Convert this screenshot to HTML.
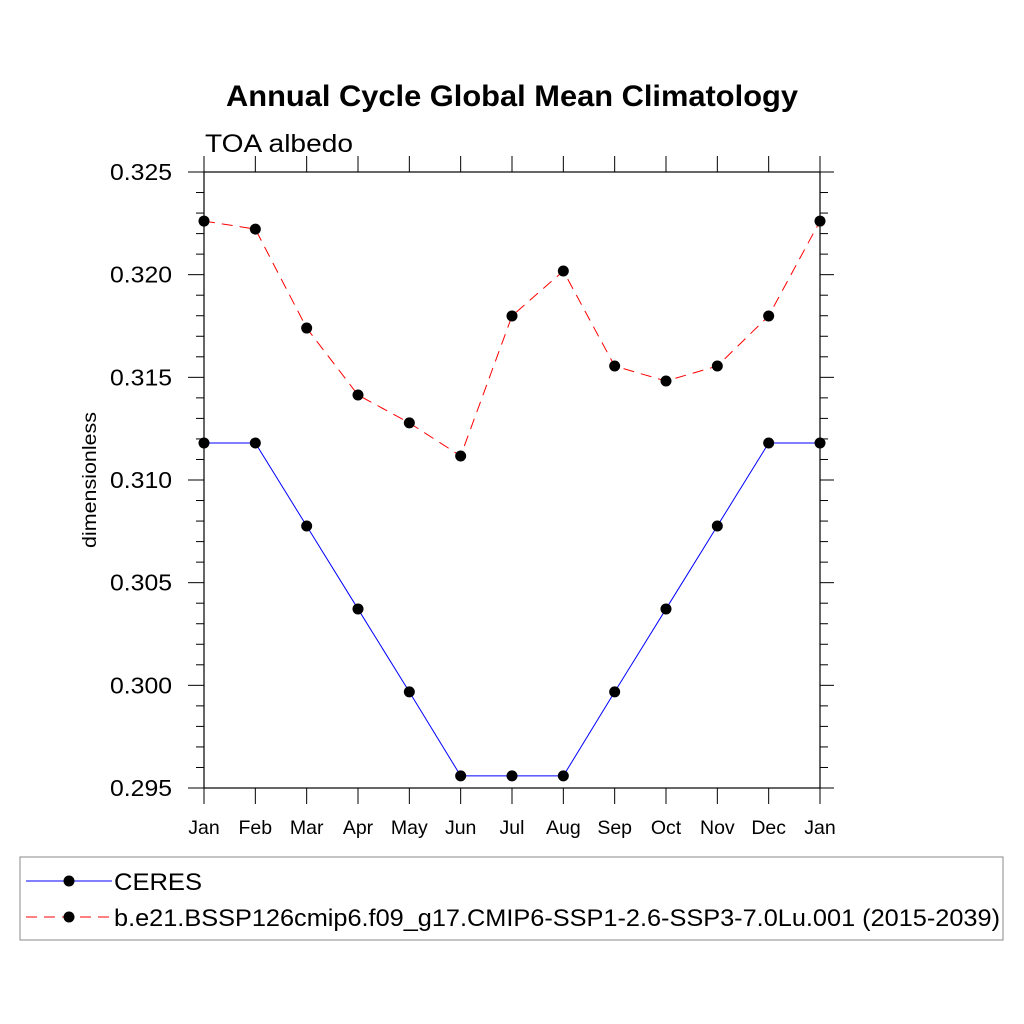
<!DOCTYPE html>
<html><head><meta charset="utf-8"><style>
body{margin:0;background:#fff}
svg{display:block;font-family:"Liberation Sans",Arial,sans-serif}
</style></head><body>
<svg id="chart" width="1024" height="1024" xmlns="http://www.w3.org/2000/svg">
<rect width="1024" height="1024" fill="#fff"/>
<text x="226" y="106" font-size="30" font-weight="bold" textLength="572" lengthAdjust="spacingAndGlyphs">Annual Cycle Global Mean Climatology</text>
<text x="205" y="152" font-size="25" textLength="148" lengthAdjust="spacingAndGlyphs">TOA albedo</text>
<text transform="translate(96,412) rotate(-90)" text-anchor="end" font-size="19" textLength="136" lengthAdjust="spacingAndGlyphs">dimensionless</text>
<g id="axes"></g>
<g id="series"></g>
<rect x="20" y="857" width="983" height="83" fill="none" stroke="#888" stroke-width="1"/>
<g>
<line x1="26" y1="881" x2="112" y2="881" stroke="#00f" stroke-width="1"/>
<circle cx="69" cy="881" r="5.5" fill="#000"/>
<text x="114" y="890" font-size="24" textLength="88" lengthAdjust="spacingAndGlyphs">CERES</text>
</g>
<g>
<line x1="26" y1="917" x2="112" y2="917" stroke="#f00" stroke-width="1" stroke-dasharray="11,7"/>
<circle cx="69" cy="917" r="5.5" fill="#000"/>
<text x="114" y="926" font-size="24" textLength="886" lengthAdjust="spacingAndGlyphs">b.e21.BSSP126cmip6.f09_g17.CMIP6-SSP1-2.6-SSP3-7.0Lu.001 (2015-2039)</text>
</g>
</svg>
<script>
const months=["Jan","Feb","Mar","Apr","May","Jun","Jul","Aug","Sep","Oct","Nov","Dec","Jan"];
const yTicks=[0.295,0.300,0.305,0.310,0.315,0.320,0.325];
const yTickLabels=["0.295","0.300","0.305","0.310","0.315","0.320","0.325"];
const ceres=[0.3118,0.3118,0.30776,0.30372,0.29968,0.29559,0.29559,0.29559,0.29968,0.30372,0.30776,0.3118,0.3118];
const model=[0.32261,0.32222,0.3174,0.31414,0.31278,0.31117,0.31799,0.32018,0.31555,0.31482,0.31555,0.31799,0.32261];
const L=204,R=820,T=172,B=788,yMin=0.295,yMax=0.325;
const xs=i=>L+i*(R-L)/12;
const ys=v=>B-(v-yMin)/(yMax-yMin)*(B-T);
const NS="http://www.w3.org/2000/svg";
function mk(tag,attrs,parent){const e=document.createElementNS(NS,tag);for(const k in attrs)e.setAttribute(k,attrs[k]);parent.appendChild(e);return e;}
const ax=document.getElementById('axes');
const frame=mk('rect',{x:L,y:T,width:R-L,height:B-T,fill:'none',stroke:'#000','stroke-width':1.2},ax);


months.forEach((m,i)=>{const x=xs(i);
mk('line',{x1:x,y1:B,x2:x,y2:B+16,stroke:'#000'},ax);
mk('line',{x1:x,y1:T,x2:x,y2:T-16,stroke:'#000'},ax);
const t=mk('text',{x:x,y:834,'text-anchor':'middle','font-size':19.5},ax);t.textContent=m;

});
for(let v=0;v<=30;v++){const val=yMin+v*0.001;const y=ys(val);const major=v%5===0;
mk('line',{x1:L,y1:y,x2:L-(major?16:8),y2:y,stroke:'#000'},ax);
mk('line',{x1:R,y1:y,x2:R+(major?14:8),y2:y,stroke:'#000'},ax);}
yTicks.forEach((v,i)=>{const t=mk('text',{x:172,y:ys(v)+8,'text-anchor':'end','font-size':23,textLength:62,lengthAdjust:'spacingAndGlyphs'},ax);t.textContent=yTickLabels[i];

});
const sg=document.getElementById('series');
function series(data,color,dash,name){
const p=mk('polyline',{points:data.map((v,i)=>xs(i)+','+ys(v)).join(' '),fill:'none',stroke:color,'stroke-width':1,'stroke-dasharray':dash},sg);


data.forEach((v,i)=>{const c=mk('circle',{cx:xs(i),cy:ys(v),r:5.5,fill:'#000'},sg);

});}
series(ceres,'#00f','none','ceres');
series(model,'#f00','11,7','model');
</script>
</body></html>
